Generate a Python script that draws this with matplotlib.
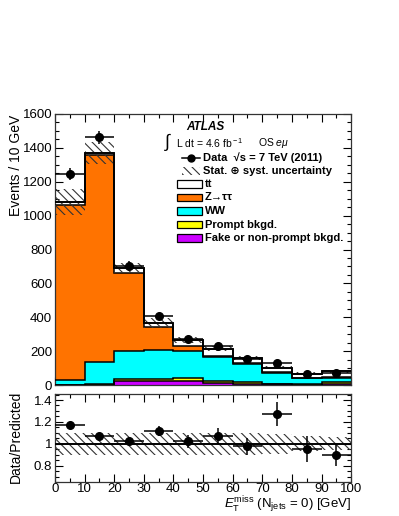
import numpy as np
import matplotlib
matplotlib.use("Agg")
import matplotlib.pyplot as plt
from matplotlib.patches import Rectangle
from matplotlib.lines import Line2D
from matplotlib.ticker import MultipleLocator, FixedLocator

plt.rcParams['font.family'] = ['Liberation Sans', 'DejaVu Sans']
plt.rcParams['mathtext.fontset'] = 'custom'
plt.rcParams['mathtext.rm'] = 'Liberation Sans'
plt.rcParams['mathtext.it'] = 'Liberation Sans:italic'
plt.rcParams['mathtext.bf'] = 'Liberation Sans:bold'
plt.rcParams['hatch.linewidth'] = 0.8

# ---- data ----
bin_edges = [0, 10, 20, 30, 40, 50, 60, 70, 80, 90, 100]
fake = [1, 2, 25, 22, 24, 12, 8, 3, 2, 3]
prompt = [1, 2, 12, 12, 17, 14, 8, 4, 3, 12]
ww = [29, 134, 161, 170, 161, 137, 109, 66, 35, 28]
ztautau = [1034, 1219, 462, 137, 30, 10, 7, 3, 2, 2]
ttbar = [15, 10, 30, 24, 34, 42, 26, 26, 25, 36]
data = [1244, 1462, 704, 406, 270, 228, 153, 129, 64, 73]
data_err = [35, 38, 27, 20, 16, 15, 12, 11, 8, 9]
pred_unc = [75, 65, 30, 30, 18, 15, 12, 10, 8, 8]
ratio_unc = [0.10, 0.10, 0.10, 0.10, 0.10, 0.10, 0.10, 0.09, 0.07, 0.06]
ratio = [1.17, 1.073, 1.024, 1.114, 1.024, 1.07, 0.978, 1.268, 0.954, 0.90]
ratio_err = [0.01, 0.012, 0.02, 0.045, 0.06, 0.07, 0.077, 0.11, 0.12, 0.10]

colors = {'fake': '#CC00FF', 'prompt': '#FFFF00', 'ww': '#00FFFF',
          'z': '#FF7300', 'tt': '#FFFFFF'}

edges = np.array(bin_edges, dtype=float)
centers = 0.5 * (edges[:-1] + edges[1:])
halfw = 0.5 * np.diff(edges)

fig = plt.figure(figsize=(3.99, 5.16), dpi=100)
ax = fig.add_axes([0.138, 1 - 385 / 516, 0.742, (385 - 114) / 516])
rax = fig.add_axes([0.138, 1 - 482 / 516, 0.742, (482 - 394) / 516])

# ---- stacked histogram ----
comps = [(fake, colors['fake']), (prompt, colors['prompt']), (ww, colors['ww']),
         (ztautau, colors['z']), (ttbar, colors['tt'])]
cum = np.zeros(len(centers))
tops = []
for vals, col in comps:
    new = cum + np.array(vals, dtype=float)
    tops.append((cum.copy(), new.copy(), col))
    cum = new
for lo, hi, col in tops:
    ax.stairs(hi, edges, baseline=lo, fill=True, color=col, zorder=2)
for lo, hi, col in tops:
    ax.stairs(hi, edges, baseline=None, color='black', lw=1.1, zorder=3)
total = cum
unc = np.array(pred_unc, dtype=float)
ax.stairs(total + unc, edges, baseline=total - unc, fill=True, facecolor='none',
          edgecolor='#333333', hatch='\\\\\\\\', lw=0, zorder=4)
ax.stairs(total, edges, baseline=None, color='black', lw=1.3, zorder=4)

ax.errorbar(centers, data, yerr=data_err, xerr=halfw, fmt='o', color='black',
            ms=5.5, elinewidth=1.1, capsize=0, zorder=6)

ax.set_xlim(0, 100)
ax.set_ylim(0, 1600)
ax.yaxis.set_major_locator(MultipleLocator(200))
ax.yaxis.set_minor_locator(MultipleLocator(50))
ax.xaxis.set_major_locator(MultipleLocator(10))
ax.xaxis.set_minor_locator(MultipleLocator(5))
ax.tick_params(axis='x', labelbottom=False)

for a in (ax, rax):
    a.tick_params(which='both', direction='in', top=True, right=True, labelsize=9.5,
                  width=0.8, pad=2)
    a.tick_params(which='major', length=6)
    a.tick_params(which='minor', length=3)
    for s in a.spines.values():
        s.set_linewidth(0.9)
        s.set_color('#333333')

# ---- ratio panel ----
rax.stairs(1 + np.array(ratio_unc), edges, baseline=1 - np.array(ratio_unc), fill=True,
           facecolor='none', edgecolor='#333333', hatch='\\\\\\\\', lw=0, zorder=2)
rax.axhline(1.0, color='black', lw=1.4, zorder=3)
rax.errorbar(centers, ratio, yerr=ratio_err, xerr=halfw, fmt='o', color='black',
             ms=5.5, elinewidth=1.1, capsize=0, zorder=5)
rax.set_xlim(0, 100)
rax.set_ylim(0.65, 1.455)
rax.yaxis.set_major_locator(FixedLocator([0.8, 1.0, 1.2, 1.4]))
rax.set_yticklabels(['0.8', '1', '1.2', '1.4'])
rax.yaxis.set_minor_locator(MultipleLocator(0.05))
rax.xaxis.set_major_locator(MultipleLocator(10))
rax.xaxis.set_minor_locator(MultipleLocator(5))
rax.tick_params(axis='x', labelsize=9.5, pad=1.0)

# ---- labels ----
fig.text(16 / 399, 1 - 115 / 516, 'Events / 10 GeV', rotation=90, ha='center',
         va='top', fontsize=10)
fig.text(16 / 399, 1 - 437 / 516, 'Data/Predicted', rotation=90, ha='center',
         va='center', fontsize=10)
fig.text(0.88, 1 - 508 / 516, r'$E_{\rm T}^{\rm miss}$ (N$_{\rm jets}$ = 0) [GeV]',
         ha='right', va='baseline', fontsize=9.5)

# ---- legend (manual, ROOT style) ----
T = ax.transAxes
def fx(px):
    return (px - 55) / 296.0
def fy(py):
    return (385 - py) / 271.0

fs = 8
ax.text(fx(186), fy(127), 'ATLAS', transform=T, fontsize=8.5, fontweight='bold',
        fontstyle='italic', va='center', ha='left')
ax.text(fx(164), fy(142), r'$\int$', transform=T, fontsize=13, va='center', ha='left')
ax.text(fx(176), fy(143), r'L dt = 4.6 fb$^{\rm -1}$', transform=T, fontsize=7.5,
        va='center', ha='left')
ax.text(fx(258), fy(143), r'OS $e\mu$', transform=T, fontsize=7.5, va='center', ha='left')

ax.add_line(Line2D([fx(182), fx(200)], [fy(158), fy(158)], transform=T, color='black',
                   lw=1.1))
ax.add_line(Line2D([fx(191)], [fy(158)], transform=T, color='black', marker='o', ms=5))
ax.text(fx(203), fy(158), 'Data  \u221as = 7 TeV (2011)', transform=T, fontsize=fs,
        fontweight='bold', va='center', ha='left')
ax.add_patch(Rectangle((fx(182), fy(175)), fx(200) - fx(182), fy(167) - fy(175),
                       transform=T, facecolor='none', edgecolor='#333333', lw=0,
                       hatch='\\\\\\\\'))
ax.text(fx(203), fy(171), 'Stat. \u2295 syst. uncertainty', transform=T, fontsize=fs,
        fontweight='bold', va='center', ha='left')

leg_items = [('tt', colors['tt']), ('Z\u2192\u03c4\u03c4', colors['z']),
             ('WW', colors['ww']), ('Prompt bkgd.', colors['prompt']),
             ('Fake or non-prompt bkgd.', colors['fake'])]
rows = [184, 197.5, 211, 224.5, 238]
for (lab, col), py in zip(leg_items, rows):
    ax.add_patch(Rectangle((fx(177), fy(py + 3.8)), fx(202) - fx(177),
                           fy(py - 3.8) - fy(py + 3.8),
                           transform=T, facecolor=col, edgecolor='black', lw=0.9, zorder=7))
    ax.text(fx(205), fy(py), lab, transform=T, fontsize=fs, fontweight='bold',
            va='center', ha='left')

fig.savefig('out.png', dpi=100)
